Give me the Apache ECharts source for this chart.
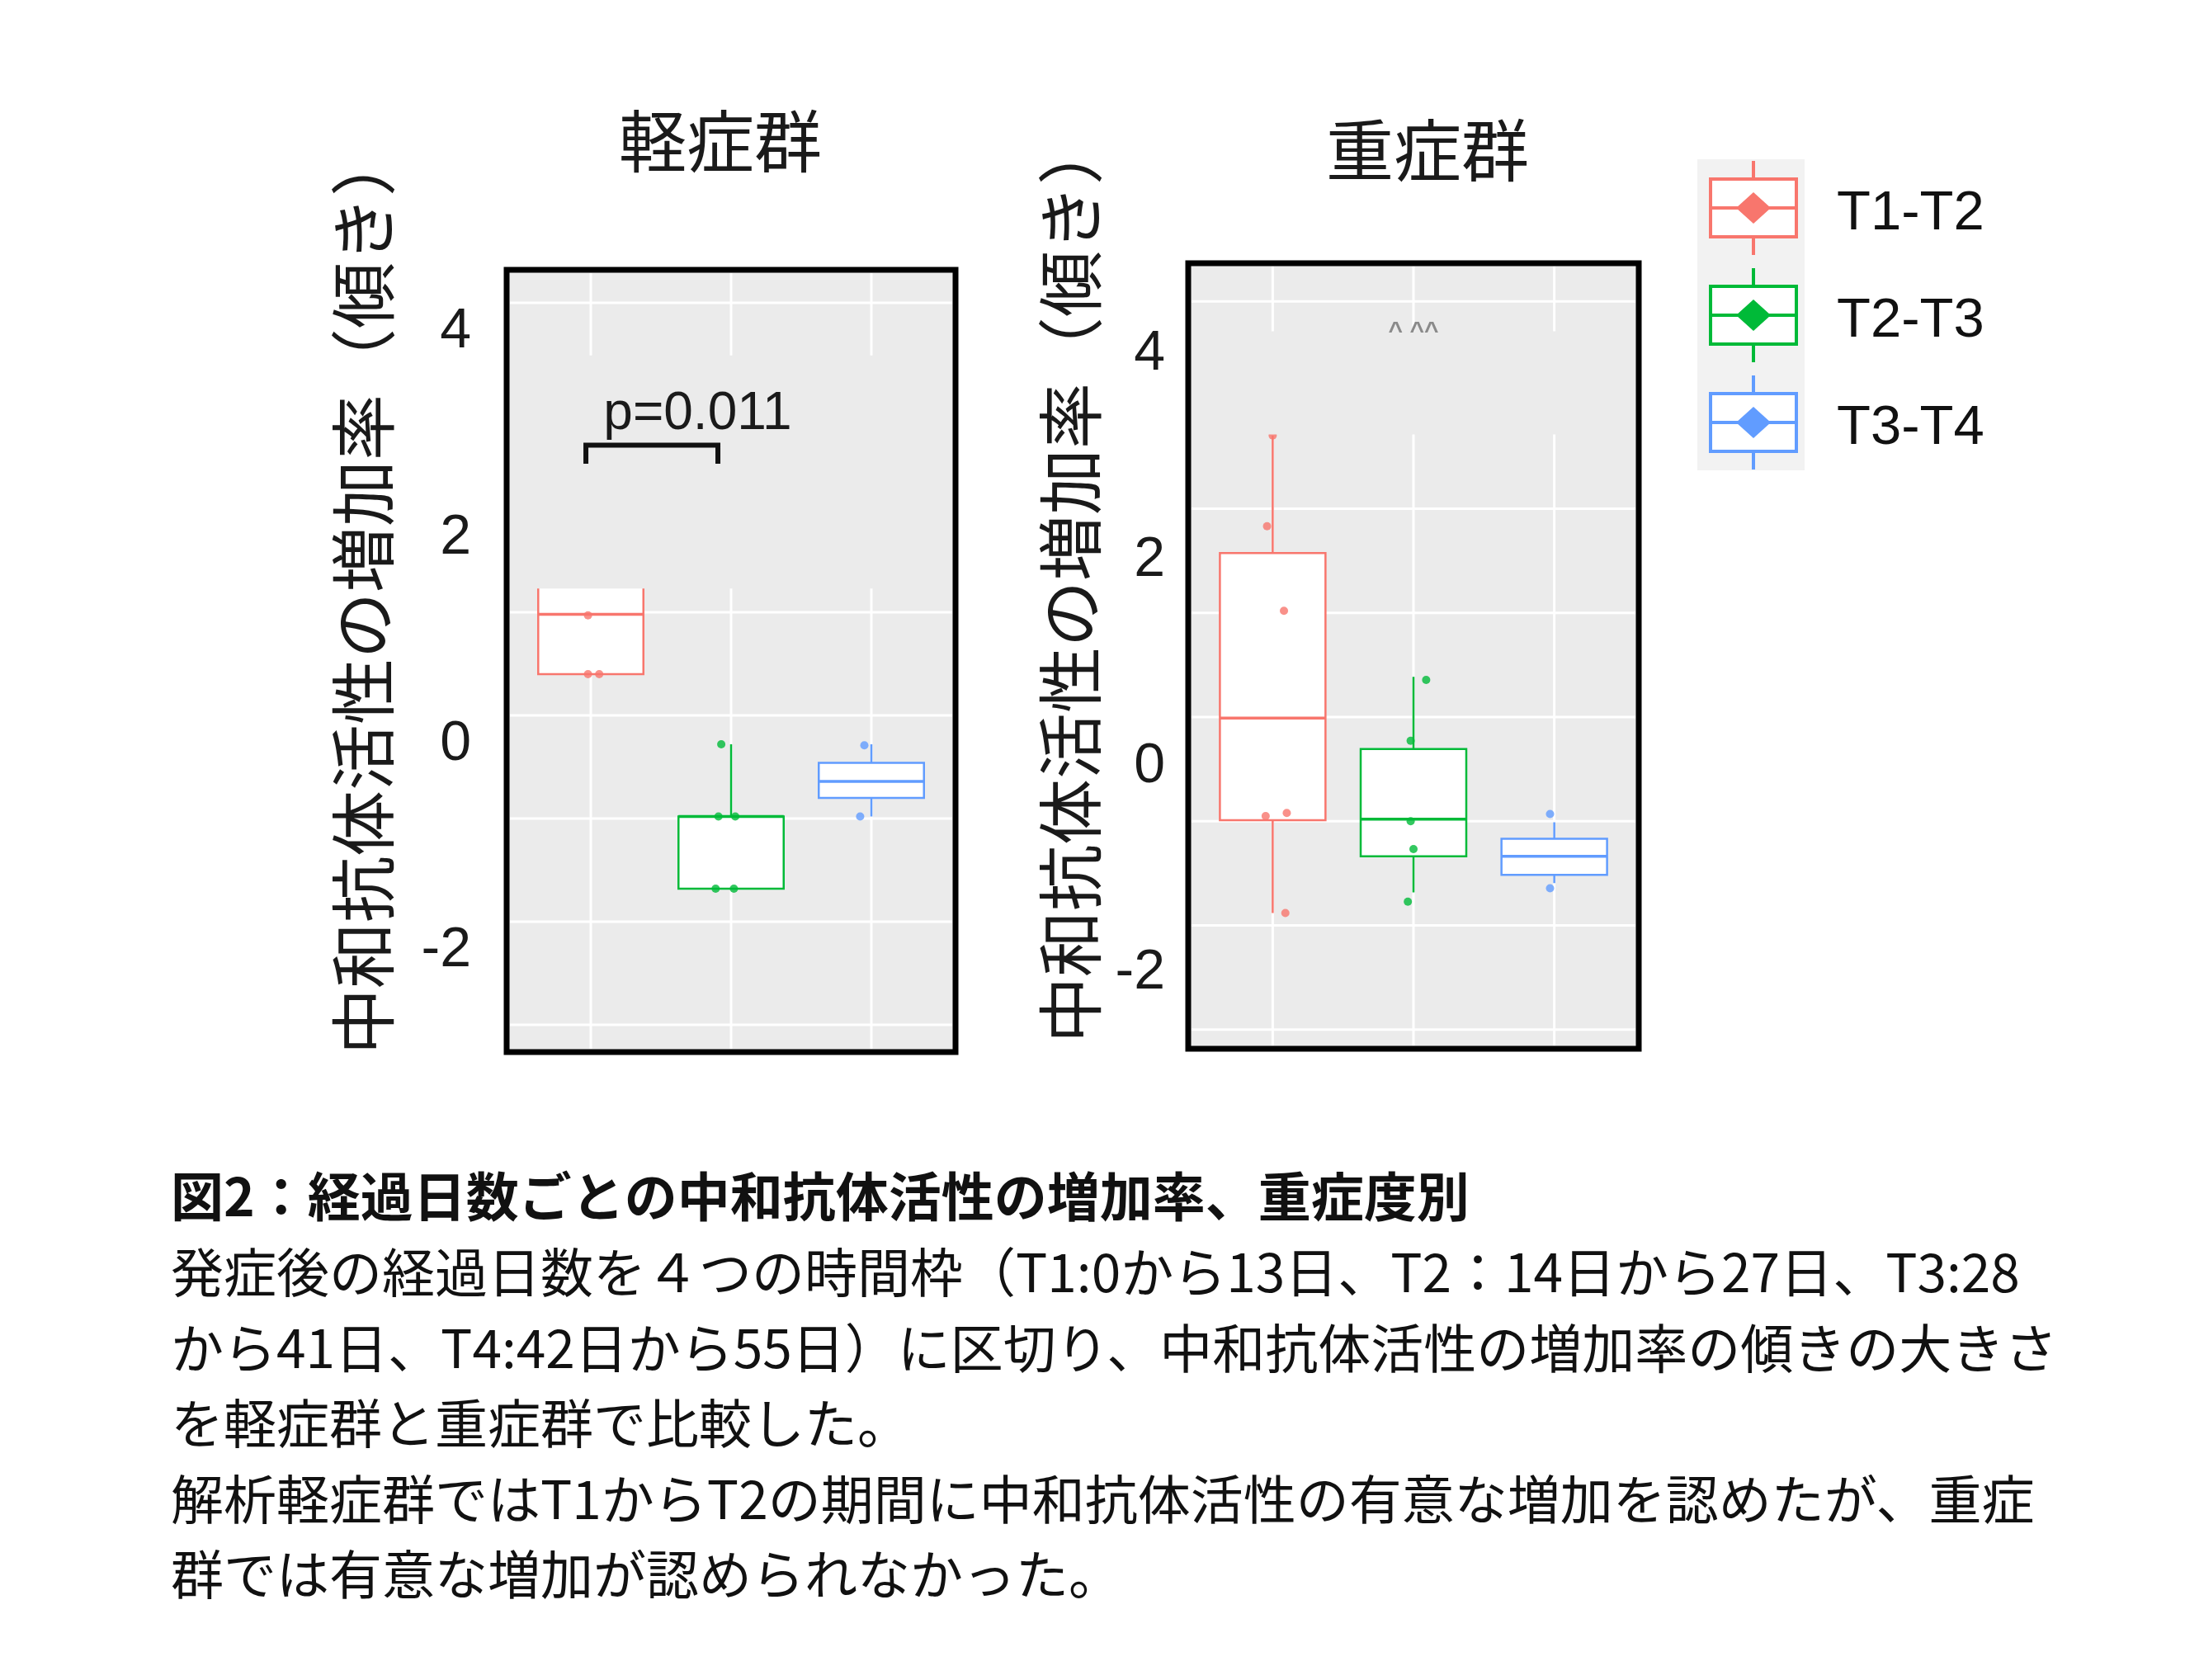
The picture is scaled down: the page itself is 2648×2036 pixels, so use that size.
<!DOCTYPE html>
<html>
<head>
<meta charset="utf-8">
<title>中和抗体活性の増加率</title>
<script src="https://cdn.jsdelivr.net/npm/echarts@6/dist/echarts.min.js"></script>
<style>
  html, body { margin: 0; padding: 0; background: #fff; }
  #chart { width: 2648px; height: 2036px; }
</style>
</head>
<body>
<div id="chart"></div>
<script>
// groups and colours (ggplot default hues)
const groups = ['T1-T2', 'T2-T3', 'T3-T4'];
const colors = ['#F8766D', '#00BA38', '#619CFF'];
const yTicks = [-2, 0, 2, 4];
const panelTitles = ['軽症群', '重症群'];
const yTitle = '中和抗体活性の増加率（傾き）';

// box stats per group: [lower whisker, Q1, median, Q3, upper whisker]
const mildStats = [
  [0.68, 0.68, 1.26, 1.53, 1.53],
  [-1.40, -1.40, -0.70, -0.70, 0.00],
  [-0.70, -0.52, -0.36, -0.18, 0.00]
];
const severeStats = [
  [-1.42, -0.52, 0.47, 2.07, 3.21],
  [-1.22, -0.87, -0.51, 0.17, 0.87],
  [-1.13, -1.05, -0.87, -0.70, -0.54]
];

// jittered points per group: [x, value]
const mildPoints = [
  [[0.98, 1.25], [0.98, 0.68], [1.06, 0.68]],
  [[1.93, 0.00], [1.91, -0.70], [2.03, -0.70], [1.89, -1.40], [2.02, -1.40]],
  [[2.95, -0.01], [2.92, -0.70]]
];
const severePoints = [
  [[1.00, 3.21], [0.96, 2.33], [1.08, 1.51], [0.95, -0.48], [1.10, -0.45], [1.09, -1.42]],
  [[2.09, 0.84], [1.98, 0.25], [1.98, -0.53], [2.00, -0.80], [1.96, -1.31]],
  [[2.97, -0.46], [2.97, -1.18]]
];

const captionLines = [
  '図2：経過日数ごとの中和抗体活性の増加率、重症度別',
  '発症後の経過日数を４つの時間枠（T1:0から13日、T2：14日から27日、T3:28',
  'から41日、T4:42日から55日）に区切り、中和抗体活性の増加率の傾きの大きさ',
  'を軽症群と重症群で比較した。',
  '解析軽症群ではT1からT2の期間に中和抗体活性の有意な増加を認めたが、重症',
  '群では有意な増加が認められなかった。'
];

const latin = '"Liberation Sans", Arial, sans-serif';
const cjk = '"Noto Sans CJK JP", "Noto Sans", sans-serif';

// layout of the two panels
const panels = [
  {
    stats: mildStats, points: mildPoints,
    grid: { left: 614, top: 327, width: 544, height: 948 },
    yMin: -2.984, yMax: 4.6, labelMargin: 43,
    hLines: [4.28, 3.28, 2.28, 1.28, 0.28, -0.72, -1.72, -2.72],
    patch: [3.77, 1.51],
    titlePos: [873, 171], yTitlePos: [440, 718]
  },
  {
    stats: severeStats, points: severePoints,
    grid: { left: 1440, top: 319, width: 546, height: 952 },
    yMin: -2.736, yMax: 4.88, labelMargin: 28,
    hLines: [4.51, 3.51, 2.50, 1.49, 0.48, -0.53, -1.54, -2.55],
    patch: [4.22, 3.22],
    titlePos: [1730, 182], yTitlePos: [1297, 704]
  }
];

const chart = echarts.init(document.getElementById('chart'));

const grids = [], xAxes = [], yAxes = [], series = [], graphics = [];

panels.forEach((p, pi) => {
  grids.push(Object.assign({
    show: true, backgroundColor: '#EBEBEB', borderColor: '#000', borderWidth: 7
  }, p.grid));
  xAxes.push({ type: 'value', gridIndex: pi, min: 0.4, max: 3.6, show: false });
  yAxes.push({
    type: 'value', gridIndex: pi, min: p.yMin, max: p.yMax,
    axisLine: { show: false }, axisTick: { show: false }, splitLine: { show: false },
    axisLabel: {
      customValues: yTicks, margin: p.labelMargin,
      fontSize: 68, fontFamily: latin, color: '#1a1a1a'
    }
  });

  const base = { xAxisIndex: pi, yAxisIndex: pi, silent: true, animation: false };

  // horizontal grid lines
  series.push(Object.assign({
    type: 'custom', z: 1,
    data: p.hLines.map(v => [2, v]),
    renderItem: (params, api) => {
      const y = api.coord([2, api.value(1)])[1];
      const cs = params.coordSys;
      return { type: 'line', shape: { x1: cs.x + 4, y1: y, x2: cs.x + cs.width - 4, y2: y },
        style: { stroke: '#FFFFFF', lineWidth: 3 } };
    }
  }, base));
  // vertical grid lines at the groups
  series.push(Object.assign({
    type: 'custom', z: 1,
    data: groups.map((g, i) => [i + 1, 0]),
    renderItem: (params, api) => {
      const x = api.coord([api.value(0), 0])[0];
      const cs = params.coordSys;
      return { type: 'line', shape: { x1: x, y1: cs.y + 4, x2: x, y2: cs.y + cs.height - 4 },
        style: { stroke: '#FFFFFF', lineWidth: 3 } };
    }
  }, base));

  // boxes
  series.push(Object.assign({
    type: 'custom', z: 2,
    data: p.stats.map((s, i) => [i + 1].concat(s)),
    renderItem: (params, api) => {
      const x = api.value(0);
      const col = colors[params.dataIndex];
      const half = api.size([0.375, 0])[0];
      const low = api.coord([x, api.value(1)]);
      const q1 = api.coord([x, api.value(2)]);
      const med = api.coord([x, api.value(3)]);
      const q3 = api.coord([x, api.value(4)]);
      const high = api.coord([x, api.value(5)]);
      const lw = 2.5;
      return {
        type: 'group',
        children: [
          { type: 'line', shape: { x1: q3[0], y1: q3[1], x2: high[0], y2: high[1] }, style: { stroke: col, lineWidth: lw } },
          { type: 'line', shape: { x1: q1[0], y1: q1[1], x2: low[0], y2: low[1] }, style: { stroke: col, lineWidth: lw } },
          { type: 'rect', shape: { x: q1[0] - half, y: q3[1], width: half * 2, height: q1[1] - q3[1] },
            style: { fill: '#FFFFFF', stroke: col, lineWidth: lw } },
          { type: 'line', shape: { x1: med[0] - half, y1: med[1], x2: med[0] + half, y2: med[1] },
            style: { stroke: col, lineWidth: 3.5 } }
        ]
      };
    }
  }, base));

  // jittered points
  p.points.forEach((pts, gi) => {
    series.push(Object.assign({
      type: 'scatter', name: groups[gi], z: 3,
      symbolSize: 10, itemStyle: { color: colors[gi] },
      data: pts
    }, base));
  });

  // grey patch pasted over the panel in the original figure
  series.push(Object.assign({
    type: 'custom', z: 4,
    data: [[2, p.patch[0], p.patch[1]]],
    renderItem: (params, api) => {
      const cs = params.coordSys;
      const y1 = api.coord([2, api.value(1)])[1];
      const y2 = api.coord([2, api.value(2)])[1];
      return { type: 'rect', shape: { x: cs.x + 4, y: y1, width: cs.width - 8, height: y2 - y1 },
        style: { fill: '#EBEBEB' } };
    }
  }, base));

  graphics.push({
    type: 'text', x: p.titlePos[0], y: p.titlePos[1],
    style: { text: panelTitles[pi], fontSize: 82, fontFamily: cjk, fill: '#1a1a1a',
      textAlign: 'center', textVerticalAlign: 'middle' }
  });
  graphics.push({
    type: 'text', x: p.yTitlePos[0], y: p.yTitlePos[1], rotation: Math.PI / 2,
    style: { text: yTitle, fontSize: 80, fontFamily: cjk, fill: '#1a1a1a',
      textAlign: 'center', textVerticalAlign: 'middle' }
  });
});

// significance bracket (mild panel)
series.push({
  type: 'custom', xAxisIndex: 0, yAxisIndex: 0, z: 5, silent: true, animation: false,
  data: [[0.965, 1.906, 2.90, 2.72]],
  renderItem: (params, api) => {
    const a = api.coord([api.value(0), api.value(3)]);
    const b = api.coord([api.value(0), api.value(2)]);
    const c = api.coord([api.value(1), api.value(2)]);
    const d = api.coord([api.value(1), api.value(3)]);
    return { type: 'polyline', shape: { points: [a, b, c, d] },
      style: { stroke: '#111', lineWidth: 6, fill: null } };
  }
});
series.push({
  type: 'custom', xAxisIndex: 0, yAxisIndex: 0, z: 5, silent: true, animation: false,
  data: [[1.09, 3.20]],
  renderItem: (params, api) => {
    const pt = api.coord([api.value(0), api.value(1)]);
    return { type: 'text', x: pt[0], y: pt[1],
      style: { text: 'p=0.011', fontSize: 64, fontFamily: latin, fill: '#1a1a1a',
        textAlign: 'left', textVerticalAlign: 'middle' } };
  }
});
// faint marks left at the top of the severe panel
series.push({
  type: 'custom', xAxisIndex: 1, yAxisIndex: 1, z: 5, silent: true, animation: false,
  data: [[2.0, 4.22]],
  renderItem: (params, api) => {
    const pt = api.coord([api.value(0), api.value(1)]);
    return { type: 'text', x: pt[0], y: pt[1],
      style: { text: '^ ^^', fontSize: 30, fontWeight: 'bold', fontFamily: latin, fill: '#8a8a8a',
        textAlign: 'center', textVerticalAlign: 'middle' } };
  }
});

// legend drawn as ggplot-style boxplot keys
graphics.push({ type: 'rect', shape: { x: 2057, y: 193, width: 130, height: 377 }, style: { fill: '#F2F2F2' } });
groups.forEach((g, i) => {
  const cy = 252 + i * 130, cx = 2125;
  graphics.push(
    { type: 'line', shape: { x1: cx, y1: cy - 57, x2: cx, y2: cy + 57 }, style: { stroke: colors[i], lineWidth: 4 } },
    { type: 'rect', shape: { x: 2073, y: cy - 35, width: 104, height: 70 }, style: { fill: '#fff', stroke: colors[i], lineWidth: 4 } },
    { type: 'line', shape: { x1: 2073, y1: cy, x2: 2177, y2: cy }, style: { stroke: colors[i], lineWidth: 4 } },
    { type: 'polygon', shape: { points: [[cx, cy - 19], [cx + 21, cy], [cx, cy + 19], [cx - 21, cy]] }, style: { fill: colors[i] } },
    { type: 'text', x: 2226, y: cy + 8, style: { text: g, fontSize: 67, fontFamily: latin, fill: '#111',
      textAlign: 'left', textVerticalAlign: 'middle' } }
  );
});

// caption
captionLines.forEach((line, i) => {
  graphics.push({
    type: 'text', x: 207, y: 1450 + i * 91.6,
    style: { text: line, fontSize: 64, fontFamily: cjk, fontWeight: i === 0 ? 'bold' : 'normal',
      fill: '#111', textAlign: 'left', textVerticalAlign: 'middle' }
  });
});

chart.setOption({
  animation: false,
  backgroundColor: '#FFFFFF',
  grid: grids,
  xAxis: xAxes,
  yAxis: yAxes,
  series: series,
  graphic: { elements: graphics }
});
</script>
</body>
</html>
